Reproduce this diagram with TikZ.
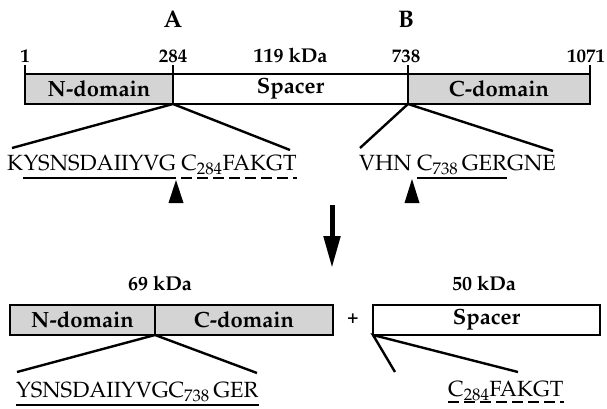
\documentclass[tikz,border=0pt]{standalone}
\usepackage[T1]{fontenc}
\usepackage{mathpazo}
\usepackage{tikz}
\usetikzlibrary{arrows.meta,positioning}

\begin{document}
\begin{tikzpicture}[x=1pt,y=-1pt,
    box/.style={draw,line width=2.4pt,minimum height=30pt,inner sep=0pt,outer sep=0pt,
      font=\bfseries\fontsize{22}{24}\selectfont},
    dom/.style={box,fill=black!17},
    num/.style={inner sep=0pt,font=\bfseries\fontsize{19}{22}\selectfont},
    site/.style={inner sep=0pt,font=\bfseries\fontsize{24}{26}\selectfont},
    seq/.style={inner sep=0pt,font=\fontsize{22}{24}\selectfont},
    link/.style={line width=2.4pt},
    uline/.style={line width=2pt},
    dline/.style={uline,dash pattern=on 11pt off 5pt},
    bigarr/.style={-{Triangle[length=32pt,width=16pt]},line width=5pt}
  ]
    \useasboundingbox (0,0) rectangle (607,409);

    % precursor, 119 kDa
    \node[dom,minimum width=148pt] (ntop) at (99,89) {N-domain};
    \node[box,minimum width=235pt,right=0pt of ntop] (stop) {Spacer};
    \node[dom,minimum width=182pt,right=0pt of stop] (ctop) {C-domain};
    \foreach \anc/\txt/\dx [count=\i] in {ntop.north west/1/0pt,stop.north west/284/0pt,
        ctop.north west/738/-2pt,ctop.north east/1071/-4pt}{
      \coordinate[above=9pt of \anc] (tk\i);
      \node[num,above=2pt of tk\i,xshift=\dx] (num\i) {\txt};
      \draw[link] (\anc) -- (tk\i);
    }
    \node[num,anchor=base,font=\bfseries\fontsize{20}{22}\selectfont] (mtop) at (stop |- num2.base) {119 kDa};
    \node[site,above=22pt of num2] (siteA) {A};
    \node[site,above=22pt of num3] (siteB) {B};

    % cleavage sites
    \node[seq,anchor=base west] (kA) at (7,170) {K};
    \node[seq,base right=0pt of kA] (yA) {YSNSDAIIYVG};
    \node[seq,base right=5pt of yA] (cA) {C\textsubscript{284}FAKGT};
    \node[seq,anchor=base west] (vB) at (359,170) {VHN};
    \node[seq,base right=5pt of vB] (cB) {C\textsubscript{738}\,GER};
    \node[seq,base right=0pt of cB] (gB) {GNE};
    \draw[uline] ([yshift=-8pt]yA.base west) -- ([yshift=-8pt]yA.base east);
    \draw[dline] ([yshift=-8pt]cA.base west) -- ([yshift=-8pt]cA.base east);
    \draw[uline] ([yshift=-8pt]cB.base west) -- ([yshift=-8pt]cB.base east);
    \coordinate (aL) at (12,148);
    \coordinate (aR) at (290,150);
    \coordinate (bL) at (360,148);
    \coordinate (bR) at (553,151);
    \draw[link] (aL) -- (stop.south west) -- (aR);
    \draw[link] (bL) -- (ctop.south west) -- (bR);
    \coordinate (cutA) at (176,180);
    \coordinate (cutB) at (412,179);
    \fill (cutA) -- ++(-7.5,23) -- ++(15,0) -- cycle;
    \fill (cutB) -- ++(-7.5,24) -- ++(15,0) -- cycle;

    % processing
    \coordinate (arrTop) at (332,205);
    \coordinate (arrTip) at (332,268);
    \draw[bigarr] (arrTop) -- (arrTip);

    % products
    \node[dom,minimum width=145pt] (nbot) at (82.5,320) {N-domain};
    \node[dom,minimum width=178pt,right=0pt of nbot] (cbot) {C-domain};
    \node[box,minimum width=227pt] (sbot) at (486.5,320) {Spacer};
    \node[num] (plus) at (353,319) {+};
    \node[num,font=\bfseries\fontsize{20}{22}\selectfont] (m69) at (160,283) {69 kDa};
    \node[num,font=\bfseries\fontsize{20}{22}\selectfont] (m50) at (484,283) {50 kDa};
    \node[seq,anchor=base west] (pN) at (16,397) {YSNSDAIIYVGC\textsubscript{738}\,GER};
    \node[seq,anchor=base west] (pS) at (448,396) {C\textsubscript{284}FAKGT};
    \draw[uline] ([yshift=-8pt]pN.base west) -- ([yshift=-8pt]pN.base east);
    \draw[dline] ([yshift=-6pt]pS.base west) -- ([yshift=-6pt]pS.base east);
    \coordinate (pL) at (17,372);
    \coordinate (pR) at (257,373);
    \coordinate (sL) at (395,372);
    \coordinate (sR) at (518,372);
    \draw[link] (pL) -- (cbot.south west) -- (pR);
    \draw[link] (sL) -- (sbot.south west) -- (sR);
  \end{tikzpicture}
\end{document}
